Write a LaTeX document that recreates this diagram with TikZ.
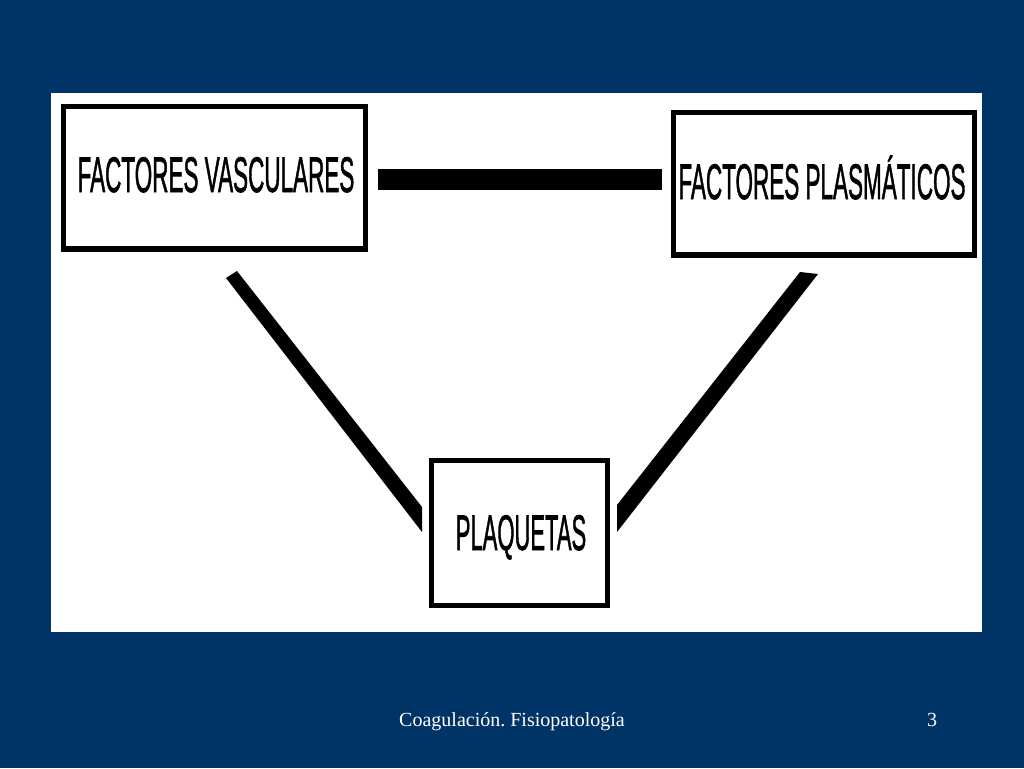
\documentclass[tikz,border=0pt]{standalone}
\usepackage{fontspec}
\setmainfont{Liberation Serif}
\newfontfamily\boxfont[FakeBold=1.6]{Liberation Sans}
\usetikzlibrary{calc}
\definecolor{slidebg}{RGB}{0,51,102}
\frenchspacing
\begin{document}
\begin{tikzpicture}[x=1pt,y=-1pt,
  boxnode/.style={draw=black, line width=4.5pt, inner sep=0pt, outer sep=0pt, fill=white},
  boxtext/.style={anchor=base, inner sep=0pt, font=\boxfont\fontsize{50}{50}\selectfont},
  footer/.style={anchor=base, inner sep=0pt, text=white, font=\fontsize{20}{24}\selectfont},
  bottomedge/.style={draw=black, line width=4pt},
  barfill/.style={fill=black}]
\fill[slidebg] (0,0) rectangle (1024,768);
\useasboundingbox (0,0) rectangle (1024,768);
\fill[white] (51,93) rectangle (982,632);

% boxes
\node[boxnode, minimum width=302pt, minimum height=143pt] (b1) at (214.5,178) {};
\node[boxnode, minimum width=301pt, minimum height=143pt] (b2) at (824,184) {};
\node[boxnode, minimum width=176pt, minimum height=145pt] (b3) at (519.5,533) {};
\draw[bottomedge] ($(b1.south west)+(0,-2)$) -- ($(b1.south east)+(0,-2)$);
\draw[bottomedge] ($(b2.south west)+(0,-2)$) -- ($(b2.south east)+(0,-2)$);
\draw[bottomedge] ($(b3.south west)+(0,-1)$) -- ($(b3.south east)+(0,-1)$);

% texts
\node[boxtext] (t1) at (216,192) {\scalebox{0.45}[1]{FACTORES VASCULARES}};
\node[boxtext] (t2) at (822,199) {\scalebox{0.45}[1]{FACTORES PLASMÁTICOS}};
\node[boxtext] (t3) at (521,550) {\scalebox{0.44}[1]{PLAQUETAS}};

% horizontal connector
\coordinate (h1) at (378,179.5);
\coordinate (h2) at (662,179.5);
\draw[line width=21pt, black] (h1) -- (h2);

% left diagonal
\coordinate (l1) at (226,278);
\coordinate (l2) at (237,271);
\coordinate (l3) at (422,507);
\coordinate (l4) at (422,532);
\fill[barfill] (l1) -- (l2) -- (l3) -- (l4) -- cycle;

% right diagonal
\coordinate (r1) at (800,272);
\coordinate (r2) at (818,274);
\coordinate (r3) at (617,532);
\coordinate (r4) at (617,505);
\fill[barfill] (r1) -- (r2) -- (r3) -- (r4) -- cycle;

% footer
\node[footer] (f1) at (512,726) {Coagulación. Fisiopatología};
\node[footer] (f2) at (932,726) {3};
\end{tikzpicture}
\end{document}
